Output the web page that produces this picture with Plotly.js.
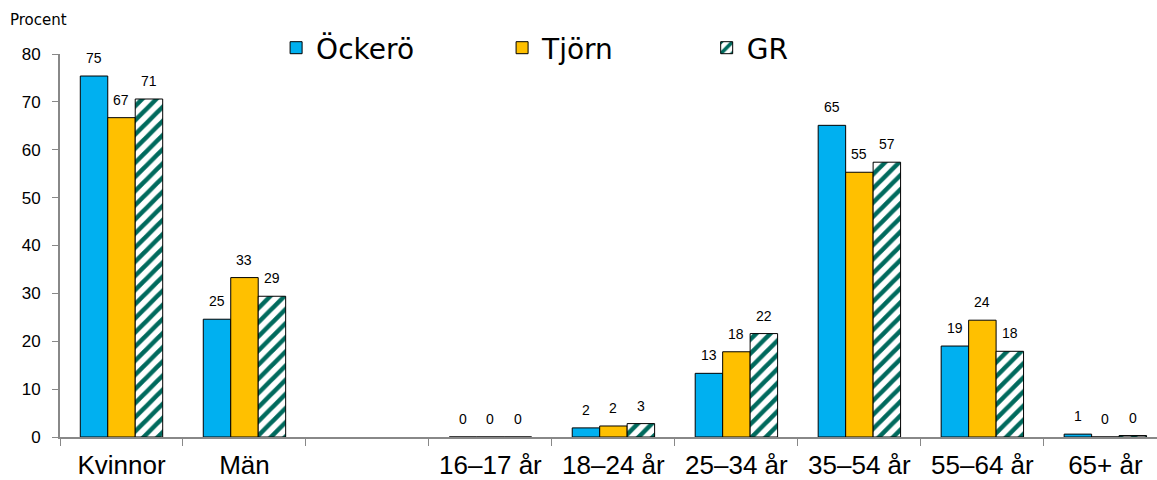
<!DOCTYPE html>
<html><head><meta charset="utf-8">
<script src="https://cdn.plot.ly/plotly-3.0.1.min.js"></script>
<style>html,body{margin:0;padding:0;overflow:hidden;background:#fff}</style>
</head><body><div id="chart" style="width:1157px;height:480px"></div>
<script>
var categories = ["Kvinnor", "Män", " ", "16–17 år", "18–24 år", "25–34 år", "35–54 år", "55–64 år", "65+ år"];
var seriesNames = ["Öckerö", "Tjörn", "GR"];
var ockero = [75.4, 24.6, null, 0, 1.9, 13.3, 65.1, 19.0, 0.6];
var tjorn  = [66.7, 33.3, null, 0, 2.3, 17.8, 55.3, 24.4, 0];
var gr     = [70.6, 29.4, null, 0, 2.8, 21.6, 57.4, 17.9, 0.3];
var yTicks = [0, 10, 20, 30, 40, 50, 60, 70, 80];

var font = "Liberation Sans, Arial, sans-serif";
var wideFont = "DejaVu Sans, Verdana, sans-serif";
var bargap = 0.33;

function bar(name, y, color, legend, pattern) {
  var t = {
    type: "bar", name: name, x: categories, y: y,
    marker: {color: color, line: {color: "#000", width: 1}},
    hoverinfo: "x+y", legend: legend
  };
  if (pattern) t.marker.pattern = pattern;
  return t;
}
var data = [
  bar(seriesNames[0], ockero, "#00b0f0", "legend"),
  bar(seriesNames[1], tjorn, "#ffc000", "legend2"),
  bar(seriesNames[2], gr, "#ffffff", "legend3", {shape: "/", fgcolor: "#006a5d", bgcolor: "#ffffff", fgopacity: 1, size: 10, solidity: 0.45, fillmode: "replace"})
];

// value labels above bars, placed through the category axis
var annotations = [];
var allSeries = [ockero, tjorn, gr];
var barW = (1 - bargap) / 3;
allSeries.forEach(function(s, si) {
  s.forEach(function(v, ci) {
    if (v === null) return;
    annotations.push({
      x: ci + (si - 1) * barW, y: v, xref: "x", yref: "y",
      text: String(Math.round(v)), showarrow: false,
      yanchor: "bottom", yshift: 8,
      font: {family: font, size: 14, color: "#000"}
    });
  });
});
annotations.push({
  text: "Procent", xref: "paper", yref: "paper", x: -0.047, y: 1 + 34/383, xanchor: "left", yanchor: "middle",
  showarrow: false, font: {family: wideFont, size: 15, color: "#000"}
});

function leg(x) {
  return {x: x, y: 1 - 48/480, xref: "paper", yref: "container", xanchor: "left", yanchor: "middle",
          orientation: "h", font: {family: wideFont, size: 28, color: "#000"}, bgcolor: "rgba(0,0,0,0)",
          itemwidth: 30};
}
var layout = {
  width: 1157, height: 480,
  margin: {l: 60, r: 0, t: 54, b: 43, autoexpand: false},
  paper_bgcolor: "#fff", plot_bgcolor: "#fff",
  barmode: "group", bargap: bargap, bargroupgap: 0,
  showlegend: true,
  legend: leg(0.197), legend2: leg(0.403), legend3: leg(0.5895),
  xaxis: {
    range: [-0.5, 8.42], tickson: "boundaries", ticks: "outside", ticklen: 7, tickcolor: "#888",
    showline: true, linecolor: "#888", linewidth: 2, showgrid: false, zeroline: false,
    tickfont: {family: font, size: 26, color: "#000"}, ticklabelstandoff: 4, fixedrange: true
  },
  yaxis: {
    range: [0, 80], tickvals: yTicks, ticks: "outside", ticklen: 6, tickcolor: "#888",
    showline: true, linecolor: "#888", linewidth: 2, showgrid: false, zeroline: false,
    tickfont: {family: font, size: 17, color: "#000"}, ticklabelstandoff: 8
  },
  annotations: annotations
};
Plotly.newPlot("chart", data, layout, {displayModeBar: false, staticPlot: true});
</script></body></html>
